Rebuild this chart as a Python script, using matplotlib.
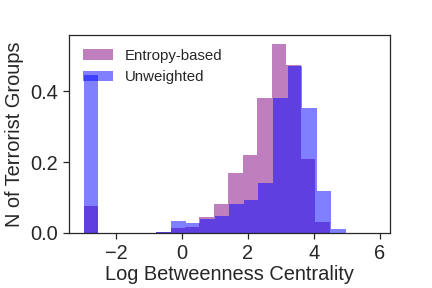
import numpy as np
import matplotlib
matplotlib.use("Agg")
import matplotlib.pyplot as plt

# density per bin, 20 bins each starting at -3
entropy_heights = [0.075, 0, 0, 0, 0, 0.003, 0.013, 0.016, 0.044, 0.081,
                   0.169, 0.219, 0.380, 0.533, 0.475, 0.208, 0.030, 0, 0, 0]
unweighted_heights = [0.445, 0, 0, 0, 0, 0.003, 0.033, 0.028, 0.039, 0.047,
                      0.081, 0.092, 0.140, 0.380, 0.472, 0.352, 0.118, 0.010, 0, 0]
entropy_range = (-3.0, 5.81)
unweighted_range = (-3.0, 5.86)

plt.rcParams['font.family'] = ['Liberation Sans', 'DejaVu Sans']
plt.rcParams['axes.edgecolor'] = '#262626'
plt.rcParams['axes.linewidth'] = 1.25
plt.rcParams['xtick.color'] = '#262626'
plt.rcParams['ytick.color'] = '#262626'
plt.rcParams['text.color'] = '#262626'
plt.rcParams['axes.labelcolor'] = '#262626'

fig = plt.figure(figsize=(6, 4), dpi=72)
ax = fig.add_axes([0.16, 0.191, 0.743, 0.687])

def draw(heights, rng, color, label):
    edges = np.linspace(rng[0], rng[1], len(heights) + 1)
    ax.bar(edges[:-1], heights, width=np.diff(edges), align='edge',
           color=color, alpha=0.5, linewidth=0, label=label)

draw(entropy_heights, entropy_range, 'purple', 'Entropy-based')
draw(unweighted_heights, unweighted_range, 'blue', 'Unweighted')

ax.set_xlim(-3.44, 6.32)
ax.set_ylim(0, 0.558)
ax.set_xticks([-2, 0, 2, 4, 6])
ax.set_yticks([0, 0.2, 0.4])
ax.tick_params(labelsize=20, length=6, width=1.25, direction='out', pad=5)
ax.set_xlabel('Log Betweenness Centrality', fontsize=20, labelpad=2)
ax.set_ylabel('N of Terrorist Groups', fontsize=20, labelpad=6)
ax.legend(loc='upper left', frameon=False, fontsize=15)

fig.savefig('out.png', dpi=72)
